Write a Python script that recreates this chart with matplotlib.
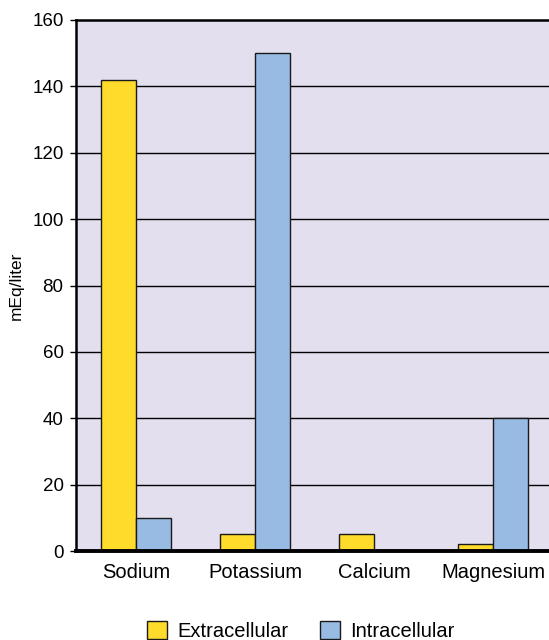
import matplotlib
matplotlib.use("Agg")
import matplotlib.pyplot as plt
import numpy as np

categories = ["Sodium", "Potassium", "Calcium", "Magnesium"]
extracellular = [142, 5, 5, 2]
intracellular = [10, 150, 0.3, 40]
yticks = [0, 20, 40, 60, 80, 100, 120, 140, 160]

plt.rcParams['font.family'] = ['Liberation Sans', 'DejaVu Sans']

fig = plt.figure(figsize=(5.49, 6.40), dpi=100)
ax = fig.add_axes([76/549, 1-551/640, 1-76/549, (551-20)/640])
ax.set_facecolor("#E3DFEE")

x = np.arange(len(categories))
w = 0.294
ax.bar(x - w/2, extracellular, w, color="#FFDB2B", edgecolor="#1a1a1a", linewidth=1.0, zorder=3, label="Extracellular")
ax.bar(x + w/2, intracellular, w, color="#97BBE3", edgecolor="#1a1a1a", linewidth=1.0, zorder=3, label="Intracellular")

ax.set_ylim(0, 160)
ax.set_xlim(-0.504, 3.47)
ax.set_yticks(yticks)
ax.set_yticklabels([str(t) for t in yticks], fontsize=13.5)
ax.set_xticks(x)
ax.set_xticklabels(categories, fontsize=14.5)
ax.tick_params(axis='x', length=0, pad=9)
ax.tick_params(axis='y', length=4, width=1, pad=5)
for t in yticks[1:-1]:
    ax.axhline(t, color="black", linewidth=1.0, zorder=1)

ax.spines['right'].set_visible(False)
ax.spines['top'].set_linewidth(1.8)
ax.spines['left'].set_linewidth(1.8)
ax.spines['bottom'].set_linewidth(2.8)
ax.spines['bottom'].set_zorder(4)

ax.set_ylabel("mEq/liter", fontsize=12.5)
ax.yaxis.set_label_coords(-0.11, 0.5)

fig.legend(loc='center', bbox_to_anchor=(0.548, 1-631/640), ncol=2, frameon=False,
           fontsize=14.5, handlelength=1.0, handleheight=1.0, columnspacing=1.6, handletextpad=0.5)

fig.savefig("out.png", dpi=100)
